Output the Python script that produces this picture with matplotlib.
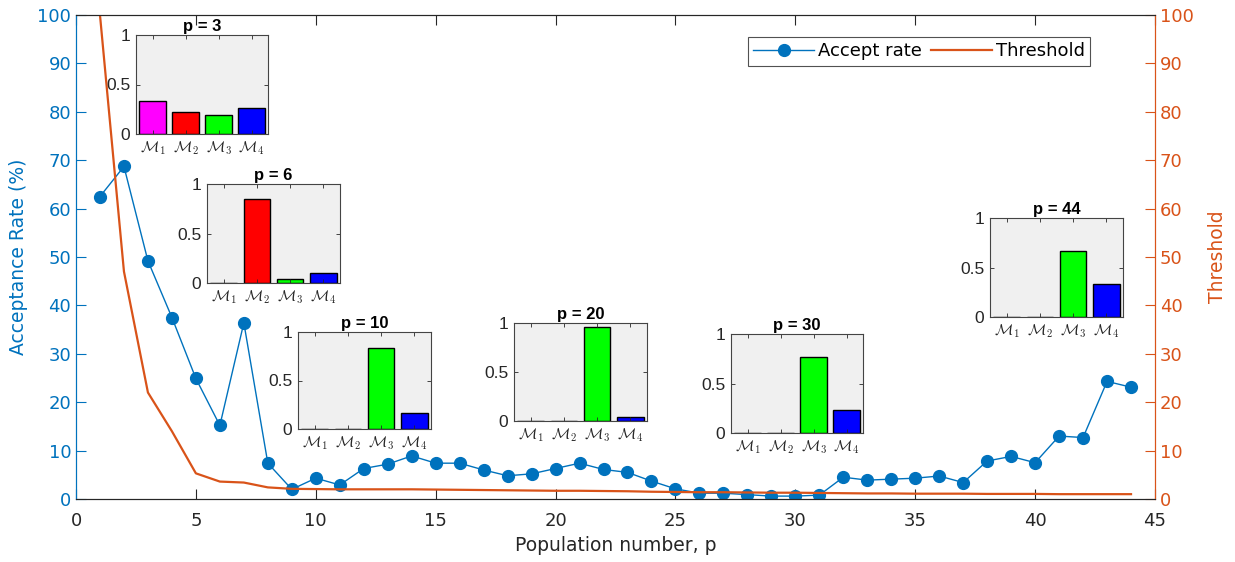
import matplotlib
matplotlib.use("Agg")
import matplotlib.pyplot as plt
import numpy as np

plt.rcParams["font.family"] = ["DejaVu Sans"]
plt.rcParams["mathtext.fontset"] = "cm"

BLUE = "#0072BD"
ORANGE = "#D95319"
DARK = "#262626"

# acceptance rate (%) and threshold per population
population = np.arange(1, 45)
accept_rate = [62.5, 68.7, 49.2, 37.5, 24.9, 15.2, 36.4, 7.4, 2.0, 4.3,
               2.9, 6.3, 7.2, 8.9, 7.4, 7.4, 6.0, 4.8, 5.2, 6.3,
               7.4, 6.1, 5.5, 3.7, 2.1, 1.2, 1.2, 0.9, 0.6, 0.6,
               0.8, 4.5, 3.9, 4.1, 4.3, 4.75, 3.4, 7.85, 8.8, 7.5,
               13.0, 12.7, 24.3, 23.1]
threshold = [100.0, 47.0, 22.0, 14.0, 5.3, 3.6, 3.4, 2.4, 2.1, 2.05,
             2.0, 2.0, 2.0, 2.0, 1.95, 1.9, 1.85, 1.8, 1.75, 1.7,
             1.7, 1.65, 1.6, 1.5, 1.45, 1.4, 1.4, 1.35, 1.3, 1.3,
             1.25, 1.2, 1.15, 1.15, 1.1, 1.1, 1.1, 1.05, 1.05, 1.05,
             1.0, 1.0, 1.0, 1.0]

# model posterior probabilities at selected populations
model_labels = [r"$\mathcal{M}_1$", r"$\mathcal{M}_2$", r"$\mathcal{M}_3$", r"$\mathcal{M}_4$"]
model_colors = ["#FF00FF", "#FF0000", "#00FF00", "#0000FF"]
snapshot_p = [3, 6, 10, 20, 30, 44]
snapshot_probs = [
    [0.33, 0.225, 0.19, 0.26],
    [0.0, 0.85, 0.045, 0.10],
    [0.0, 0.0, 0.84, 0.16],
    [0.0, 0.0, 0.96, 0.04],
    [0.0, 0.0, 0.765, 0.23],
    [0.0, 0.0, 0.67, 0.33],
]
# inset boxes in pixels: left, top, right, bottom
inset_boxes = [
    (136, 35, 268, 134),
    (207, 184, 340, 283),
    (298, 332, 431, 429),
    (514, 323, 647, 421),
    (731, 334, 863, 433),
    (990, 218, 1123, 317),
]

W, H = 1235, 562
fig = plt.figure(figsize=(W / 100, H / 100), dpi=100)


def px_rect(x0, y0, x1, y1):
    return [x0 / W, 1 - y1 / H, (x1 - x0) / W, (y1 - y0) / H]


ax = fig.add_axes(px_rect(76, 15, 1155, 499))
ax2 = ax.twinx()

l1, = ax.plot(population, accept_rate, "-o", color=BLUE, lw=1.0, ms=8.5,
              label="Accept rate")
l2, = ax2.plot(population, threshold, "-", color=ORANGE, lw=1.6, label="Threshold")

ax.set_xlim(0, 45)
ax.set_ylim(0, 100)
ax2.set_ylim(0, 100)
ax.set_xticks(np.arange(0, 46, 5))
ax.set_yticks(np.arange(0, 101, 10))
ax2.set_yticks(np.arange(0, 101, 10))

ax.tick_params(axis="x", direction="in", length=7, top=True, colors=DARK,
               labelsize=13, pad=9)
ax.tick_params(axis="y", direction="in", length=7, colors=BLUE, labelsize=13)
ax2.tick_params(axis="y", direction="in", length=7, colors=ORANGE, labelsize=13)

for a in (ax, ax2):
    a.spines["top"].set_color(DARK)
    a.spines["bottom"].set_color(DARK)
    a.spines["left"].set_color(BLUE)
    a.spines["right"].set_color(ORANGE)

ax.set_xlabel("Population number, p", fontsize=13.5, color=DARK, labelpad=5)
ax.set_ylabel("Acceptance Rate (%)", fontsize=13.5, color=BLUE, labelpad=7)
ax2.set_ylabel("Threshold", fontsize=13.5, color=ORANGE, labelpad=10)

leg = ax.legend([l1, l2], ["Accept rate", "Threshold"], loc="upper right",
                bbox_to_anchor=(0.94, 0.955), ncol=2, fontsize=13, frameon=True,
                fancybox=False, borderaxespad=0, handlelength=3.4,
                columnspacing=0.5, handletextpad=0.2, borderpad=0.3)
leg.get_frame().set_edgecolor(DARK)
leg.get_frame().set_linewidth(0.8)

# bar-chart insets of model probabilities
for p, probs, box in zip(snapshot_p, snapshot_probs, inset_boxes):
    ins = fig.add_axes(px_rect(*box))
    ins.set_facecolor("#F0F0F0")
    ins.bar(np.arange(1, 5), probs, width=0.8, color=model_colors,
            edgecolor="black", linewidth=1.0)
    ins.set_xlim(0.5, 4.5)
    ins.set_ylim(0, 1)
    ins.set_xticks(np.arange(1, 5))
    ins.set_xticklabels(model_labels, fontsize=11)
    ins.set_yticks([0, 0.5, 1])
    ins.set_yticklabels(["0", "0.5", "1"], fontsize=12.5, family="Liberation Sans")
    ins.tick_params(direction="in", length=3, top=True, right=True,
                    colors=DARK, pad=4, width=0.6)
    for s in ins.spines.values():
        s.set_color("#444444")
        s.set_linewidth(0.8)
    ins.set_title(f"p = {p}", fontsize=12, fontweight="bold",
                  family="Liberation Sans", pad=3)

fig.savefig("out.png", dpi=100)
